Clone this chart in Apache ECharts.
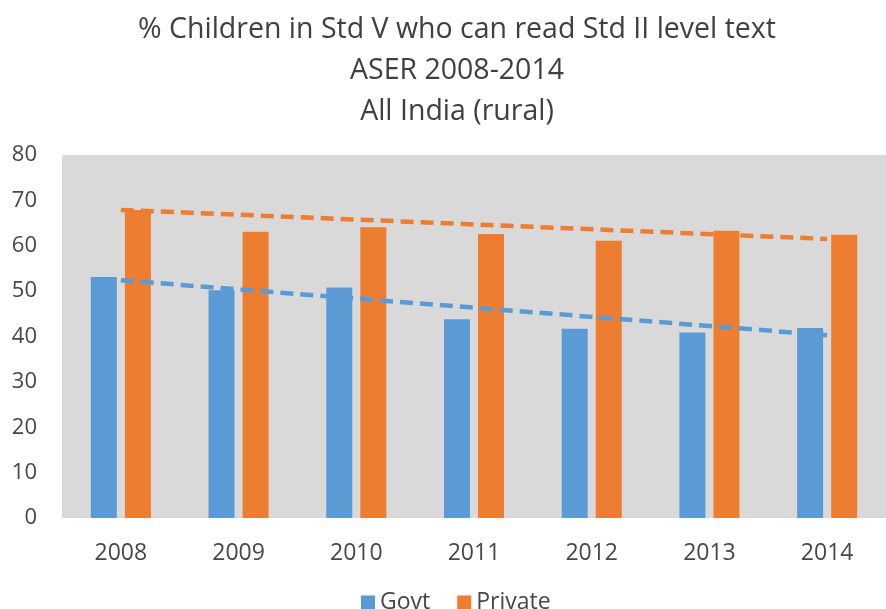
<!DOCTYPE html>
<html>
<head>
<meta charset="utf-8">
<script src="https://cdn.jsdelivr.net/npm/echarts@6/dist/echarts.min.js"></script>
<style>
  html, body { margin: 0; padding: 0; background: #fff; }
  #chart { width: 886px; height: 609px; }
</style>
</head>
<body>
<div id="chart"></div>
<script>
const years = ['2008', '2009', '2010', '2011', '2012', '2013', '2014'];
const govt = [53.1, 50.2, 50.8, 43.8, 41.7, 40.9, 41.9];
const priv = [67.9, 63.1, 64.1, 62.6, 61.1, 63.3, 62.4];
// trendline end points (first and last year)
const govtTrend = [52.4, 40.3];
const privTrend = [67.9, 61.5];
const yTicks = [0, 10, 20, 30, 40, 50, 60, 70, 80];

const textColor = '#474747';
const blue = '#5B9BD5';
const orange = '#ED7D31';
const font = 'Open Sans';

const chart = echarts.init(document.getElementById('chart'));

const trendData = (pair) => [[0, pair[0]], [years.length - 1, pair[1]]];

chart.setOption({
  animation: false,
  title: {
    text: '% Children in Std V who can read Std II level text\nASER 2008-2014\nAll India (rural)',
    left: 452,
    textAlign: 'center',
    top: 4,
    textStyle: {
      fontFamily: font,
      fontWeight: 'normal',
      fontSize: 28.5,
      lineHeight: 41,
      color: '#404040'
    }
  },
  legend: {
    data: ['Govt', 'Private'],
    top: 586,
    left: 356,
    icon: 'rect',
    itemWidth: 14,
    itemHeight: 14,
    itemGap: 27,
    textStyle: { fontFamily: font, fontSize: 23, color: textColor }
  },
  grid: {
    left: 62,
    right: 0,
    top: 155,
    bottom: 91,
    show: true,
    backgroundColor: '#D9D9D9',
    borderWidth: 0
  },
  xAxis: {
    type: 'category',
    data: years,
    axisLine: { show: false },
    axisTick: { show: false },
    axisLabel: { fontFamily: font, fontSize: 23, color: textColor, margin: 24 }
  },
  yAxis: {
    type: 'value',
    min: yTicks[0],
    max: yTicks[yTicks.length - 1],
    interval: 10,
    splitLine: { show: false },
    axisLine: { show: false },
    axisTick: { show: false },
    axisLabel: { fontFamily: font, fontSize: 22, color: textColor, margin: 25 }
  },
  series: [
    {
      name: 'Govt',
      type: 'bar',
      data: govt,
      barWidth: 26,
      barGap: '31%',
      itemStyle: { color: blue }
    },
    {
      name: 'Private',
      type: 'bar',
      data: priv,
      barWidth: 26,
      itemStyle: { color: orange }
    },
    {
      name: 'Govt trend',
      type: 'line',
      data: trendData(govtTrend),
      symbol: 'none',
      lineStyle: { color: blue, width: 4.5, type: [13, 7] },
      z: 5
    },
    {
      name: 'Private trend',
      type: 'line',
      data: trendData(privTrend),
      symbol: 'none',
      lineStyle: { color: orange, width: 4.5, type: [13, 7] },
      z: 5
    }
  ]
});
</script>
</body>
</html>
